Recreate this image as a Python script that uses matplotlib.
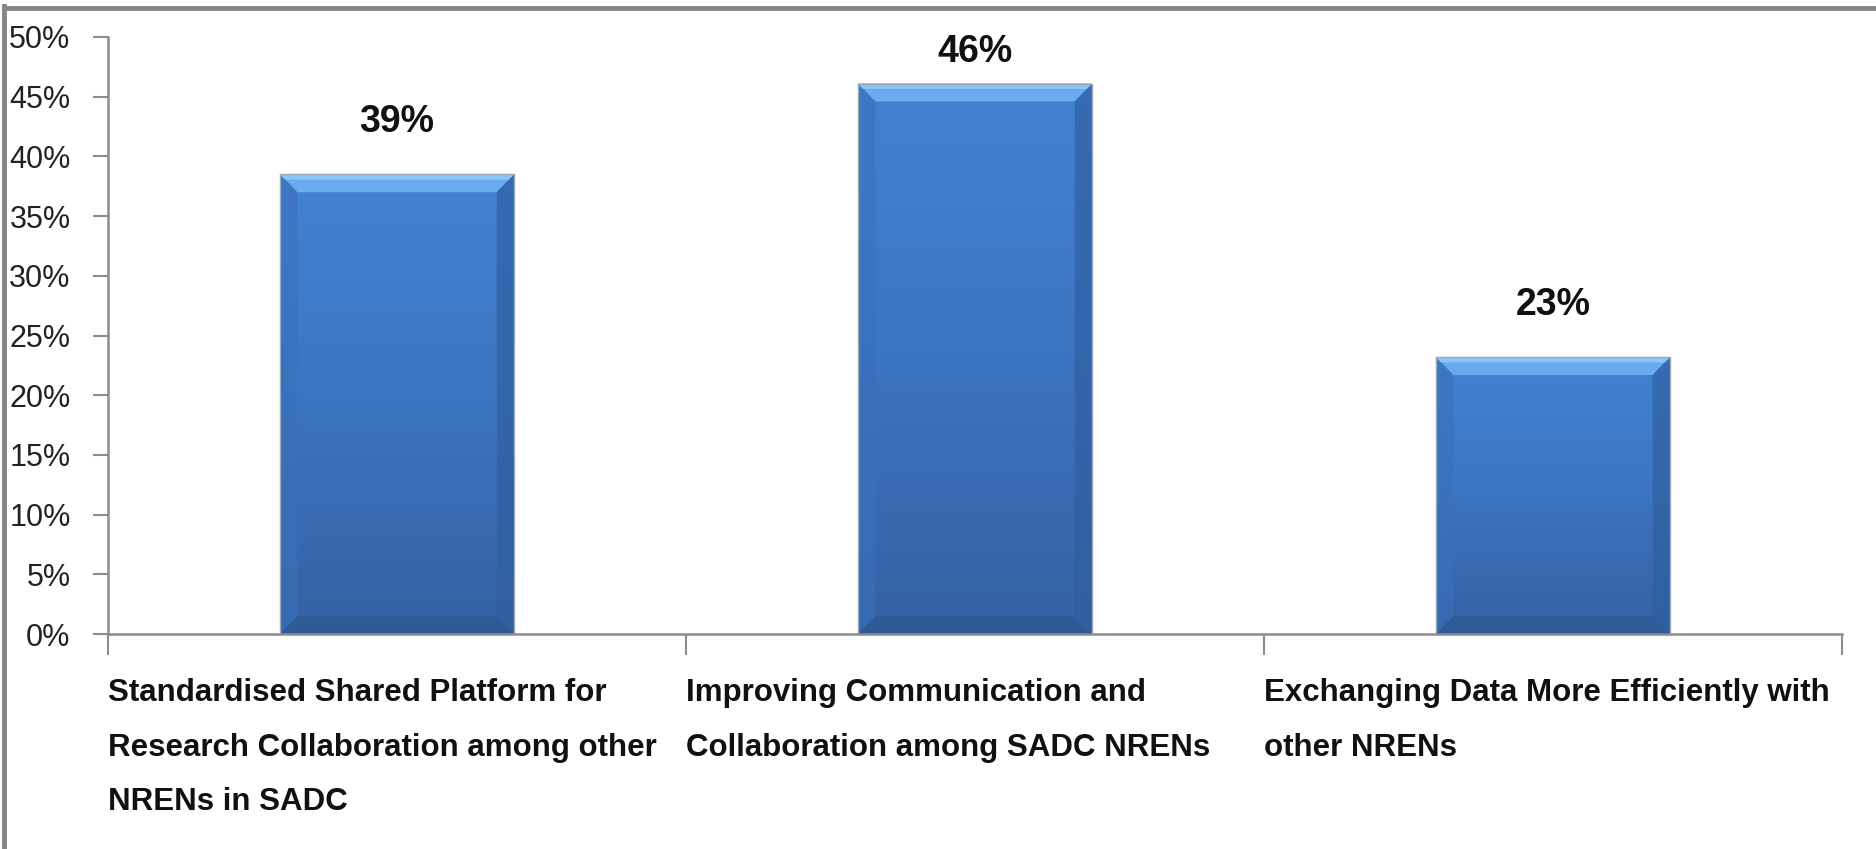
import matplotlib
matplotlib.use("Agg")
import matplotlib.pyplot as plt
import numpy as np
from matplotlib.patches import Polygon
from matplotlib.colors import LinearSegmentedColormap
import matplotlib.transforms as mtransforms

categories = [
    "Standardised Shared Platform for\nResearch Collaboration among other\nNRENs in SADC",
    "Improving Communication and\nCollaboration among SADC NRENs",
    "Exchanging Data More Efficiently with\nother NRENs",
]
values = [0.385, 0.461, 0.232]
value_labels = ["39%", "46%", "23%"]
yticks = [0, 0.05, 0.10, 0.15, 0.20, 0.25, 0.30, 0.35, 0.40, 0.45, 0.50]
ytick_labels = ["0%", "5%", "10%", "15%", "20%", "25%", "30%", "35%", "40%", "45%", "50%"]

plt.rcParams["font.family"] = ["Liberation Sans", "DejaVu Sans"]

W, H = 1876, 849
fig = plt.figure(figsize=(W / 100, H / 100), dpi=100)
ax = fig.add_axes([108 / W, 1 - 634 / H, (1842 - 108) / W, (634 - 37) / H])

x = np.arange(len(categories))
bar_width = 0.405
bars = ax.bar(x, values, width=bar_width, color="#3F7ACB", zorder=2)

ymax = 0.5
ax.set_xlim(-0.5, len(categories) - 0.5)
ax.set_ylim(0, ymax)

# Gradient + bevel on each bar
cmap = LinearSegmentedColormap.from_list("barg", ["#3562A3", "#3C74BF", "#4283D2"])
grad = np.linspace(0, 1, 256).reshape(-1, 1)
bx = 0.030   # bevel in x data units
by = 0.015   # bevel in y data units
for rect in bars.patches:
    x0, y0 = rect.get_x(), rect.get_y()
    w, h = rect.get_width(), rect.get_height()
    im = ax.imshow(grad, extent=[x0, x0 + w, y0, y0 + h], origin="lower",
                   cmap=cmap, aspect="auto", zorder=2.1)
    im.set_clip_path(rect)
    # top bevel (light)
    ax.add_patch(Polygon([[x0, y0 + h], [x0 + w, y0 + h], [x0 + w - bx, y0 + h - by],
                          [x0 + bx, y0 + h - by]], closed=True, facecolor="#6AABEE",
                         edgecolor="none", zorder=2.2))
    ax.add_patch(Polygon([[x0, y0 + h], [x0 + w, y0 + h], [x0 + w - bx * 0.3, y0 + h - by * 0.3],
                          [x0 + bx * 0.3, y0 + h - by * 0.3]], closed=True, facecolor="#8CC6F8",
                         edgecolor="none", zorder=2.25))
    # left bevel
    ax.add_patch(Polygon([[x0, y0], [x0, y0 + h], [x0 + bx, y0 + h - by], [x0 + bx, y0 + by]],
                         closed=True, facecolor="#3A70BA", alpha=0.6, edgecolor="none", zorder=2.2))
    # right bevel (dark)
    ax.add_patch(Polygon([[x0 + w, y0], [x0 + w, y0 + h], [x0 + w - bx, y0 + h - by],
                          [x0 + w - bx, y0 + by]], closed=True, facecolor="#2E5C9C", alpha=0.6,
                         edgecolor="none", zorder=2.2))
    # bottom bevel (dark)
    ax.add_patch(Polygon([[x0, y0], [x0 + w, y0], [x0 + w - bx, y0 + by], [x0 + bx, y0 + by]],
                         closed=True, facecolor="#2D5891", alpha=0.7, edgecolor="none", zorder=2.2))
    # outline shadow
    ax.add_patch(plt.Rectangle((x0, y0), w, h, facecolor="none", edgecolor="#9AA8B8",
                               linewidth=1.0, zorder=2.3))

# Value labels (kept inside the plot area, like the original chart)
label_gap = 0.0586
for rect, lab in zip(bars.patches, value_labels):
    ytop = min(rect.get_height() + label_gap, ymax + 0.0025)
    ax.text(rect.get_x() + rect.get_width() / 2, ytop, lab, ha="center", va="top",
            fontsize=27, fontweight="bold", color="#111111")

# Axes styling
for s in ["top", "right"]:
    ax.spines[s].set_visible(False)
for s in ["left", "bottom"]:
    ax.spines[s].set_color("#8C8C8C")
    ax.spines[s].set_linewidth(1.8)

ax.set_yticks(yticks)
ax.set_yticklabels(ytick_labels)
ax.tick_params(axis="y", direction="out", length=11, width=1.5, color="#8C8C8C",
               labelsize=22, labelcolor="#222222", pad=16)

boundaries = np.arange(len(categories) + 1) - 0.5
ax.set_xticks(boundaries)
ax.set_xticklabels([""] * len(boundaries))
ax.tick_params(axis="x", direction="out", length=15, width=1.5, color="#8C8C8C")

# Category labels, left aligned at category boundaries
trans = mtransforms.blended_transform_factory(ax.transData, ax.transAxes)
for i, lab in enumerate(categories):
    ax.text(i - 0.5, 0, lab,
            transform=trans + mtransforms.ScaledTranslation(0.0, -0.44, fig.dpi_scale_trans),
            ha="left", va="top", fontsize=22.5, fontweight="bold", color="#111111",
            linespacing=2.07)

# Outer frame (top and left edges)
fig.add_artist(plt.Line2D([4 / W, 4 / W], [0, 1 - 6 / H], transform=fig.transFigure,
                          color="#858585", linewidth=3.5))
fig.add_artist(plt.Line2D([4 / W, 1], [1 - 8 / H, 1 - 8 / H], transform=fig.transFigure,
                          color="#858585", linewidth=3.5))

fig.savefig("out.png", dpi=100, facecolor="white")
